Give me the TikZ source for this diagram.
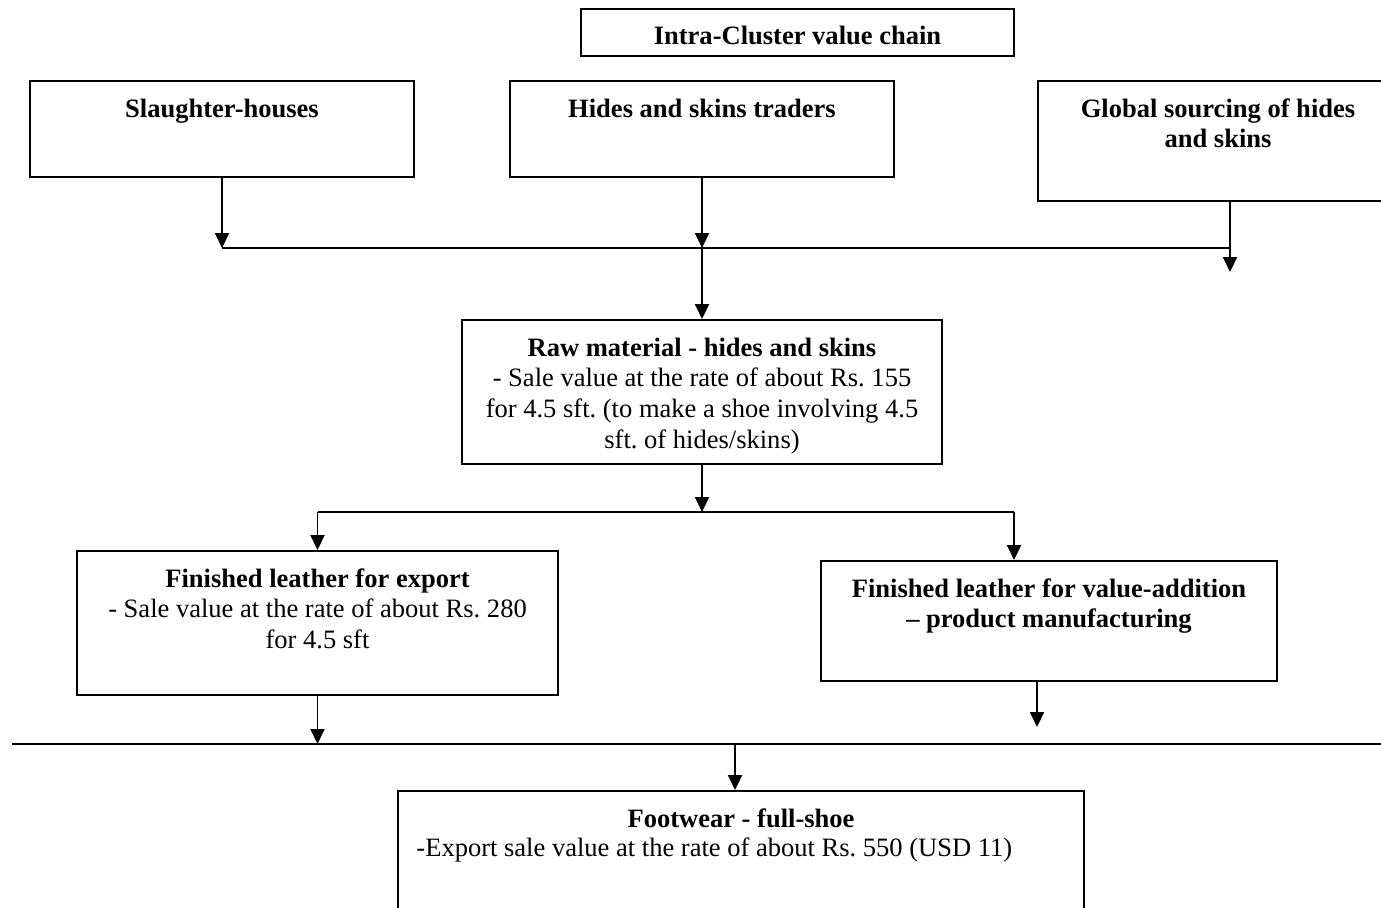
\documentclass[tikz,border=0pt]{standalone}
\usepackage{fontspec}
\setmainfont{Liberation Serif}
\usetikzlibrary{arrows.meta, calc}
\tikzset{
    vcbox/.style={draw, line width=1.1pt, inner sep=0pt},
    vctitle/.style={draw, line width=1.1pt, minimum width=8.66cm, minimum height=0.94cm, text height=0.49cm, text depth=0cm},
    vclbl/.style={anchor=north, inner sep=0pt, align=center, yshift=-0.3cm},
    vcarrow/.style={-{Triangle[length=0.3cm, width=0.28cm]}, line width=1.1pt},
    vcline/.style={line width=1.1pt},
}
\frenchspacing

\begin{document}
\begin{tikzpicture}[x=0.02cm, y=-0.02cm, font=\fontsize{15.1pt}{17.6pt}\selectfont]
        \useasboundingbox (0,0) rectangle (1381,908);
        \clip (0,0) rectangle (1381,908);
        \node[vctitle] (ttl) at (797.5,32.5) {\textbf{Intra-Cluster value chain}};
        % Fuentes
        \node[vcbox, minimum width=7.68cm, minimum height=1.92cm, label={[vclbl]north:\strut\textbf{Slaughter-houses}}] (sl) at (222,129) {};
        \node[vcbox, minimum width=7.68cm, minimum height=1.92cm, label={[vclbl]north:\strut\textbf{Hides and skins traders}}] (hs) at (702,129) {};
        \node[vcbox, minimum width=7.2cm, minimum height=2.4cm, label={[vclbl]north:\strut\textbf{Global sourcing of hides}\\ \textbf{and skins}}] (gl) at (1218,141) {};
        % Materia prima
        \node[vcbox, minimum width=9.6cm, minimum height=2.88cm, label={[vclbl]north:\strut\textbf{Raw material - hides and skins}\\ - Sale value at the rate of about Rs. 155\\ for 4.5 sft. (to make a shoe involving 4.5\\ sft. of hides/skins)}] (raw) at (702,392) {};
        % Cuero terminado
        \node[vcbox, minimum width=9.62cm, minimum height=2.88cm, label={[vclbl]north:\strut\textbf{Finished leather for export}\\ - Sale value at the rate of about Rs. 280\\ for 4.5 sft}] (ex) at (317.5,623) {};
        \node[vcbox, minimum width=9.12cm, minimum height=2.4cm, label={[vclbl]north:\strut\textbf{Finished leather for value-addition}\\ \textbf{-- product manufacturing}}] (va) at (1049,621) {};
        % Calzado
        \node[vcbox, minimum width=13.72cm, minimum height=2.88cm,
              label={[vclbl]north:\strut\textbf{Footwear - full-shoe}},
              label={[anchor=base west, inner sep=0pt, xshift=0.38cm, yshift=-1.32cm]north west:-Export sale value at the rate of about Rs. 550 (USD 11)}] (fw) at (741,863) {};
        % Uniones
        \coordinate (jA) at (702,248);
        \coordinate (gT) at (1230,272);
        \coordinate (jB) at (702,512);
        \coordinate (jC) at (1014,512);
        \coordinate (vT) at (1037,727);
        \coordinate (hL) at (12,744);
        \coordinate (hR) at (1395,744);
        \coordinate (jD) at (735,744);
        % Fuentes -> materia prima
        \draw[vcarrow] (sl) -- (sl |- jA);
        \draw[vcarrow] (hs) -- (jA);
        \draw[vcarrow] (gl.south -| gT) -- (gT);
        \draw[vcline] (sl |- jA) -- (jA -| gT);
        \draw[vcarrow] (jA) -- (raw);
        % Materia prima -> cuero
        \draw[vcarrow] (raw) -- (jB);
        \draw[vcline] (ex |- jB) -- (jC);
        \draw[vcarrow] (ex |- jB) -- (ex);
        \draw[vcarrow] (jC) -- (va.north -| jC);
        % Cuero -> calzado
        \draw[vcarrow] (ex) -- (ex |- hL);
        \draw[vcarrow] (va.south -| vT) -- (vT);
        \draw[vcline] (hL) -- (hR);
        \draw[vcarrow] (jD) -- (fw.north -| jD);
    \end{tikzpicture}
\end{document}
